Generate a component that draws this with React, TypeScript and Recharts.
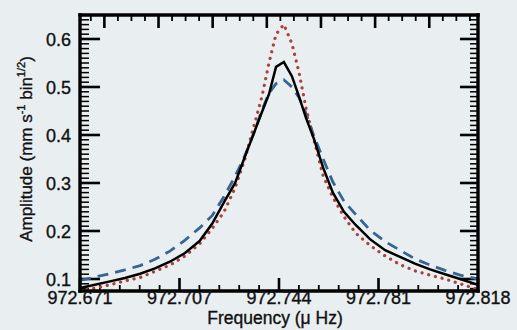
import { LineChart, Line, XAxis, YAxis, ReferenceLine } from "recharts";

// frequency samples (µHz)
const freq = [
  972.671, 972.6765, 972.6821, 972.6876, 972.6932, 972.6987, 972.7042, 972.7098, 972.7153,
  972.7198, 972.7242, 972.7283, 972.7319, 972.7353, 972.7382, 972.7408, 972.7434, 972.7463,
  972.7493, 972.7519, 972.7545, 972.7574, 972.7608, 972.7644, 972.7685, 972.7729, 972.7781,
  972.7837, 972.7892, 972.7947, 972.8003, 972.8058, 972.8114, 972.818,
];

// black solid curve
const solidAmp = [
  0.081, 0.088, 0.095, 0.102, 0.111, 0.122, 0.136, 0.154, 0.18,
  0.215, 0.26, 0.3, 0.355, 0.405, 0.448, 0.485, 0.542, 0.552,
  0.522, 0.48, 0.435, 0.392, 0.332, 0.28, 0.24, 0.212, 0.183,
  0.16, 0.146, 0.132, 0.12, 0.11, 0.1, 0.088,
];

// blue dashed curve
const dashedAmp = [
  0.097, 0.104, 0.111, 0.119, 0.128, 0.141, 0.158, 0.181, 0.207,
  0.232, 0.272, 0.314, 0.357, 0.405, 0.452, 0.487, 0.507, 0.515,
  0.5, 0.478, 0.445, 0.398, 0.35, 0.302, 0.262, 0.234, 0.202,
  0.178, 0.16, 0.142, 0.129, 0.118, 0.108, 0.1,
];

// red dotted curve
const dottedAmp = [
  0.077, 0.081, 0.088, 0.096, 0.103, 0.116, 0.129, 0.148, 0.174,
  0.205, 0.24, 0.29, 0.35, 0.42, 0.48, 0.55, 0.61, 0.63,
  0.59, 0.53, 0.455, 0.39, 0.315, 0.27, 0.23, 0.195, 0.17,
  0.148, 0.13, 0.117, 0.108, 0.1, 0.09, 0.078,
];

const xLabels = ["972.671", "972.707", "972.744", "972.781", "972.818"];
const yMajor = [0.1, 0.2, 0.3, 0.4, 0.5, 0.6];

const X_MIN = 972.671;
const X_MAX = 972.818;
const Y_MIN = 0.075;
const Y_MAX = 0.65;

// bottom: 4 labelled intervals, 5 minor steps each
const bottomTicks: number[] = [];
for (let i = 0; i <= 20; i++) bottomTicks.push(X_MIN + ((X_MAX - X_MIN) * i) / 20);
const bottomMajor = bottomTicks.filter((_, i) => i % 5 === 0);
// top: every 0.005 µHz, major every 0.02
const topTicks: number[] = [];
for (let i = 0; i <= 28; i++) topTicks.push(972.675 + i * 0.005);
// sides: every 0.01
const sideTicks: number[] = [];
for (let i = 8; i <= 64; i++) sideTicks.push(i / 100);

const data = freq.map((f, i) => ({
  f,
  solid: solidAmp[i],
  dashed: dashedAmp[i],
  dotted: dottedAmp[i],
}));

const FONT = "'Liberation Sans', Arial, sans-serif";
const BG = "#e9eff1";
const INK = "#111";

// one pixel in data units, used for tick lengths
const PX_X = (X_MAX - X_MIN) / 398;
const PX_Y = (Y_MAX - Y_MIN) / 276;

const isYMajor = (v: number) => yMajor.some((m) => Math.abs(m - v) < 1e-6);
const isTopMajor = (v: number) => {
  const k = (v - 972.68) / 0.02;
  return Math.abs(k - Math.round(k)) < 1e-4;
};

const textStyle = { fontFamily: FONT, fill: INK, stroke: INK, strokeWidth: 0.35 };

function LeftLabel(props: any) {
  const { x, y, payload } = props;
  return (
    <text x={x - 9} y={y + 6.5} textAnchor="end" fontSize={18} {...textStyle}>
      {payload.value.toFixed(1)}
    </text>
  );
}

function BottomLabel(props: any) {
  const { x, y, index } = props;
  return (
    <text x={x} y={y + 13} textAnchor="middle" fontSize={18} {...textStyle}>
      {xLabels[index]}
    </text>
  );
}

function YTitle(props: any) {
  const vb = props.viewBox;
  const cy = vb.y + vb.height / 2 - 4;
  return (
    <text x={32} y={cy} transform={`rotate(-90 32 ${cy})`} textAnchor="middle" fontSize={17} {...textStyle}>
      Amplitude (mm s
      <tspan dy={-7} fontSize={11}>-1</tspan>
      <tspan dy={7}> bin</tspan>
      <tspan dy={-7} fontSize={11}>1/2</tspan>
      <tspan dy={7}>)</tspan>
    </text>
  );
}

function XTitle(props: any) {
  const vb = props.viewBox;
  return (
    <text x={vb.x + vb.width / 2 - 4} y={324} textAnchor="middle" fontSize={17.5} {...textStyle}>
      Frequency (μ Hz)
    </text>
  );
}

const frame = { stroke: "#000", strokeWidth: 3.4, strokeLinecap: "square" as const };

export default function App() {
  const ids = { xAxisId: "bottom", yAxisId: "left" };
  return (
    <div style={{ position: "absolute", left: 0, top: 0, width: 517, height: 330, background: BG }}>
      <LineChart width={517} height={330} data={data} margin={{ top: 14, right: 38, bottom: 0, left: 0 }}>
        <XAxis
          xAxisId="bottom"
          dataKey="f"
          type="number"
          domain={[X_MIN, X_MAX]}
          allowDataOverflow
          ticks={bottomMajor}
          interval={0}
          height={39}
          tickSize={0}
          tickMargin={0}
          tickLine={false}
          tick={(p: any) => <BottomLabel {...p} />}
          axisLine={frame}
          label={(p: any) => <XTitle {...p} />}
        />
        <XAxis
          xAxisId="top"
          orientation="top"
          type="number"
          domain={[X_MIN, X_MAX]}
          allowDataOverflow
          height={1}
          tick={false}
          tickLine={false}
          axisLine={frame}
        />
        <YAxis
          yAxisId="left"
          type="number"
          domain={[Y_MIN, Y_MAX]}
          allowDataOverflow
          ticks={yMajor}
          interval={0}
          width={80}
          tickSize={0}
          tickMargin={0}
          tickLine={false}
          tick={(p: any) => <LeftLabel {...p} />}
          axisLine={frame}
          label={(p: any) => <YTitle {...p} />}
        />
        <YAxis
          yAxisId="right"
          orientation="right"
          type="number"
          domain={[Y_MIN, Y_MAX]}
          allowDataOverflow
          width={1}
          tick={false}
          tickLine={false}
          axisLine={frame}
        />

        {/* inward tick marks, placed through the chart scales */}
        {sideTicks.map((v) => {
          const major = isYMajor(v);
          return (
            <ReferenceLine
              key={`l${v}`}
              {...ids}
              segment={[{ x: X_MIN, y: v }, { x: X_MIN + (major ? 20 : 9) * PX_X, y: v }]}
              stroke="#000"
              strokeWidth={major ? 2.6 : 1.5}
              ifOverflow="visible"
            />
          );
        })}
        {sideTicks.map((v) => {
          const major = isYMajor(v);
          return (
            <ReferenceLine
              key={`r${v}`}
              {...ids}
              segment={[{ x: X_MAX, y: v }, { x: X_MAX - (major ? 18 : 8) * PX_X, y: v }]}
              stroke="#000"
              strokeWidth={major ? 2.6 : 1.5}
              ifOverflow="visible"
            />
          );
        })}
        {bottomTicks.map((v, i) => {
          const major = i % 5 === 0;
          return (
            <ReferenceLine
              key={`b${i}`}
              {...ids}
              segment={[{ x: v, y: Y_MIN }, { x: v, y: Y_MIN + (major ? 13 : 6) * PX_Y }]}
              stroke="#000"
              strokeWidth={major ? 2.6 : 1.8}
              ifOverflow="visible"
            />
          );
        })}
        {topTicks.map((v, i) => {
          const major = isTopMajor(v);
          return (
            <ReferenceLine
              key={`t${i}`}
              {...ids}
              segment={[{ x: v, y: Y_MAX }, { x: v, y: Y_MAX - (major ? 13 : 6) * PX_Y }]}
              stroke="#000"
              strokeWidth={major ? 2.6 : 1.8}
              ifOverflow="visible"
            />
          );
        })}

        <Line
          {...ids}
          dataKey="dashed"
          type="linear"
          stroke="#366595"
          strokeWidth={2.8}
          strokeDasharray="11 7"
          dot={false}
          isAnimationActive={false}
        />
        <Line
          {...ids}
          dataKey="dotted"
          type="linear"
          stroke="#ad4038"
          strokeWidth={3.2}
          strokeDasharray="0.1 6.8"
          strokeLinecap="round"
          dot={false}
          isAnimationActive={false}
        />
        <Line
          {...ids}
          dataKey="solid"
          type="linear"
          stroke="#000"
          strokeWidth={2.5}
          dot={false}
          isAnimationActive={false}
        />
      </LineChart>
    </div>
  );
}
